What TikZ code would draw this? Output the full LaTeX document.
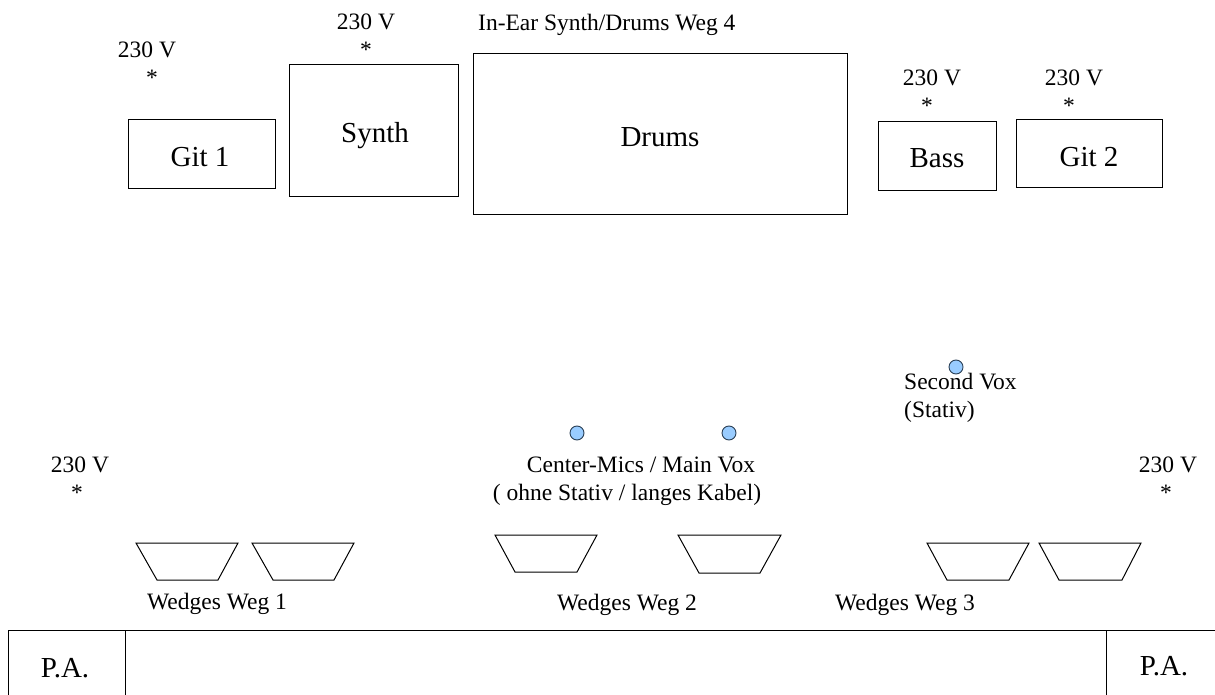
\documentclass[tikz,border=0pt]{standalone}
\usepackage{fontspec}
\setmainfont{Liberation Serif}
\definecolor{micblue}{HTML}{99CCFF}
\definecolor{micline}{HTML}{2A3F55}
\begin{document}
\begin{tikzpicture}[x=1pt,y=-1pt,
  small/.style={inner sep=0pt,anchor=base,font=\fontsize{23.5}{28}\selectfont},
  big/.style={inner sep=0pt,anchor=base,font=\fontsize{29}{34}\selectfont},
  amp/.style={draw,line width=1pt},
  wedge/.style={draw,line width=1pt},
  mic/.style={draw=micline,fill=micblue,line width=0.9pt}]
\useasboundingbox (0,0) rectangle (1215,695);
% amps / boxes
\draw[amp] (128,120) rectangle (275,189);
\draw[amp] (289,65) rectangle (458,197);
\draw[amp] (473,54) rectangle (847,215);
\draw[amp] (878,122) rectangle (996,191);
\draw[amp] (1016,120) rectangle (1162,188);
\node[big] (git1) at (200,167) {Git 1};
\node[big] (synth) at (375,143) {Synth};
\node[big] (drums) at (660,147) {Drums};
\node[big] (bass) at (937,168) {Bass};
\node[big] (git2) at (1089,167) {Git 2};
% power
\node[small] (v1) at (147,58) {230 V};
\node[small] (a1) at (152,86) {*};
\node[small] (v2) at (366,30) {230 V};
\node[small] (a2) at (366,58) {*};
\node[small] (v3) at (932,86) {230 V};
\node[small] (a3) at (927,114) {*};
\node[small] (v4) at (1074,86) {230 V};
\node[small] (a4) at (1069,114) {*};
\node[small] (v5) at (80,472) {230 V};
\node[small] (a5) at (77,500) {*};
\node[small] (v6) at (1168,472) {230 V};
\node[small] (a6) at (1166,500) {*};
\node[small,anchor=base west] (inear) at (478,31) {In-Ear Synth/Drums Weg 4};
% mics
\draw[mic] (577,433) circle (7);
\draw[mic] (729,433) circle (7);
\draw[mic] (956,367) circle (7);
\node[small] (cm) at (641,472) {Center-Mics / Main Vox};
\node[small] (cm2) at (627,500) {( ohne Stativ / langes Kabel)};
\node[small,anchor=base west] (sv) at (904,389) {Second Vox};
\node[small,anchor=base west] (sv2) at (904,417) {(Stativ)};
% wedges
\draw[wedge] (136,543) -- (238,543) -- (218,580) -- (157,580) -- cycle;
\draw[wedge] (252,543) -- (354,543) -- (334,580) -- (273,580) -- cycle;
\draw[wedge] (495,535) -- (597,535) -- (577,572) -- (515,572) -- cycle;
\draw[wedge] (678,535) -- (781,535) -- (760,573) -- (699,573) -- cycle;
\draw[wedge] (927,543) -- (1029,543) -- (1009,580) -- (947,580) -- cycle;
\draw[wedge] (1039,543) -- (1141,543) -- (1122,580) -- (1059,580) -- cycle;
\node[small] (w1) at (217,609) {Wedges Weg 1};
\node[small] (w2) at (627,610) {Wedges Weg 2};
\node[small] (w3) at (905,610) {Wedges Weg 3};
% stage front / P.A.
\draw[line width=1pt] (8,700) -- (8,630) -- (1220,630);
\draw[line width=1pt] (125,630) -- (125,700);
\draw[line width=1pt] (1106,630) -- (1106,700);
\node[big] (pa1) at (65,677) {P.A.};
\node[big] (pa2) at (1164,675) {P.A.};
\end{tikzpicture}
\end{document}
